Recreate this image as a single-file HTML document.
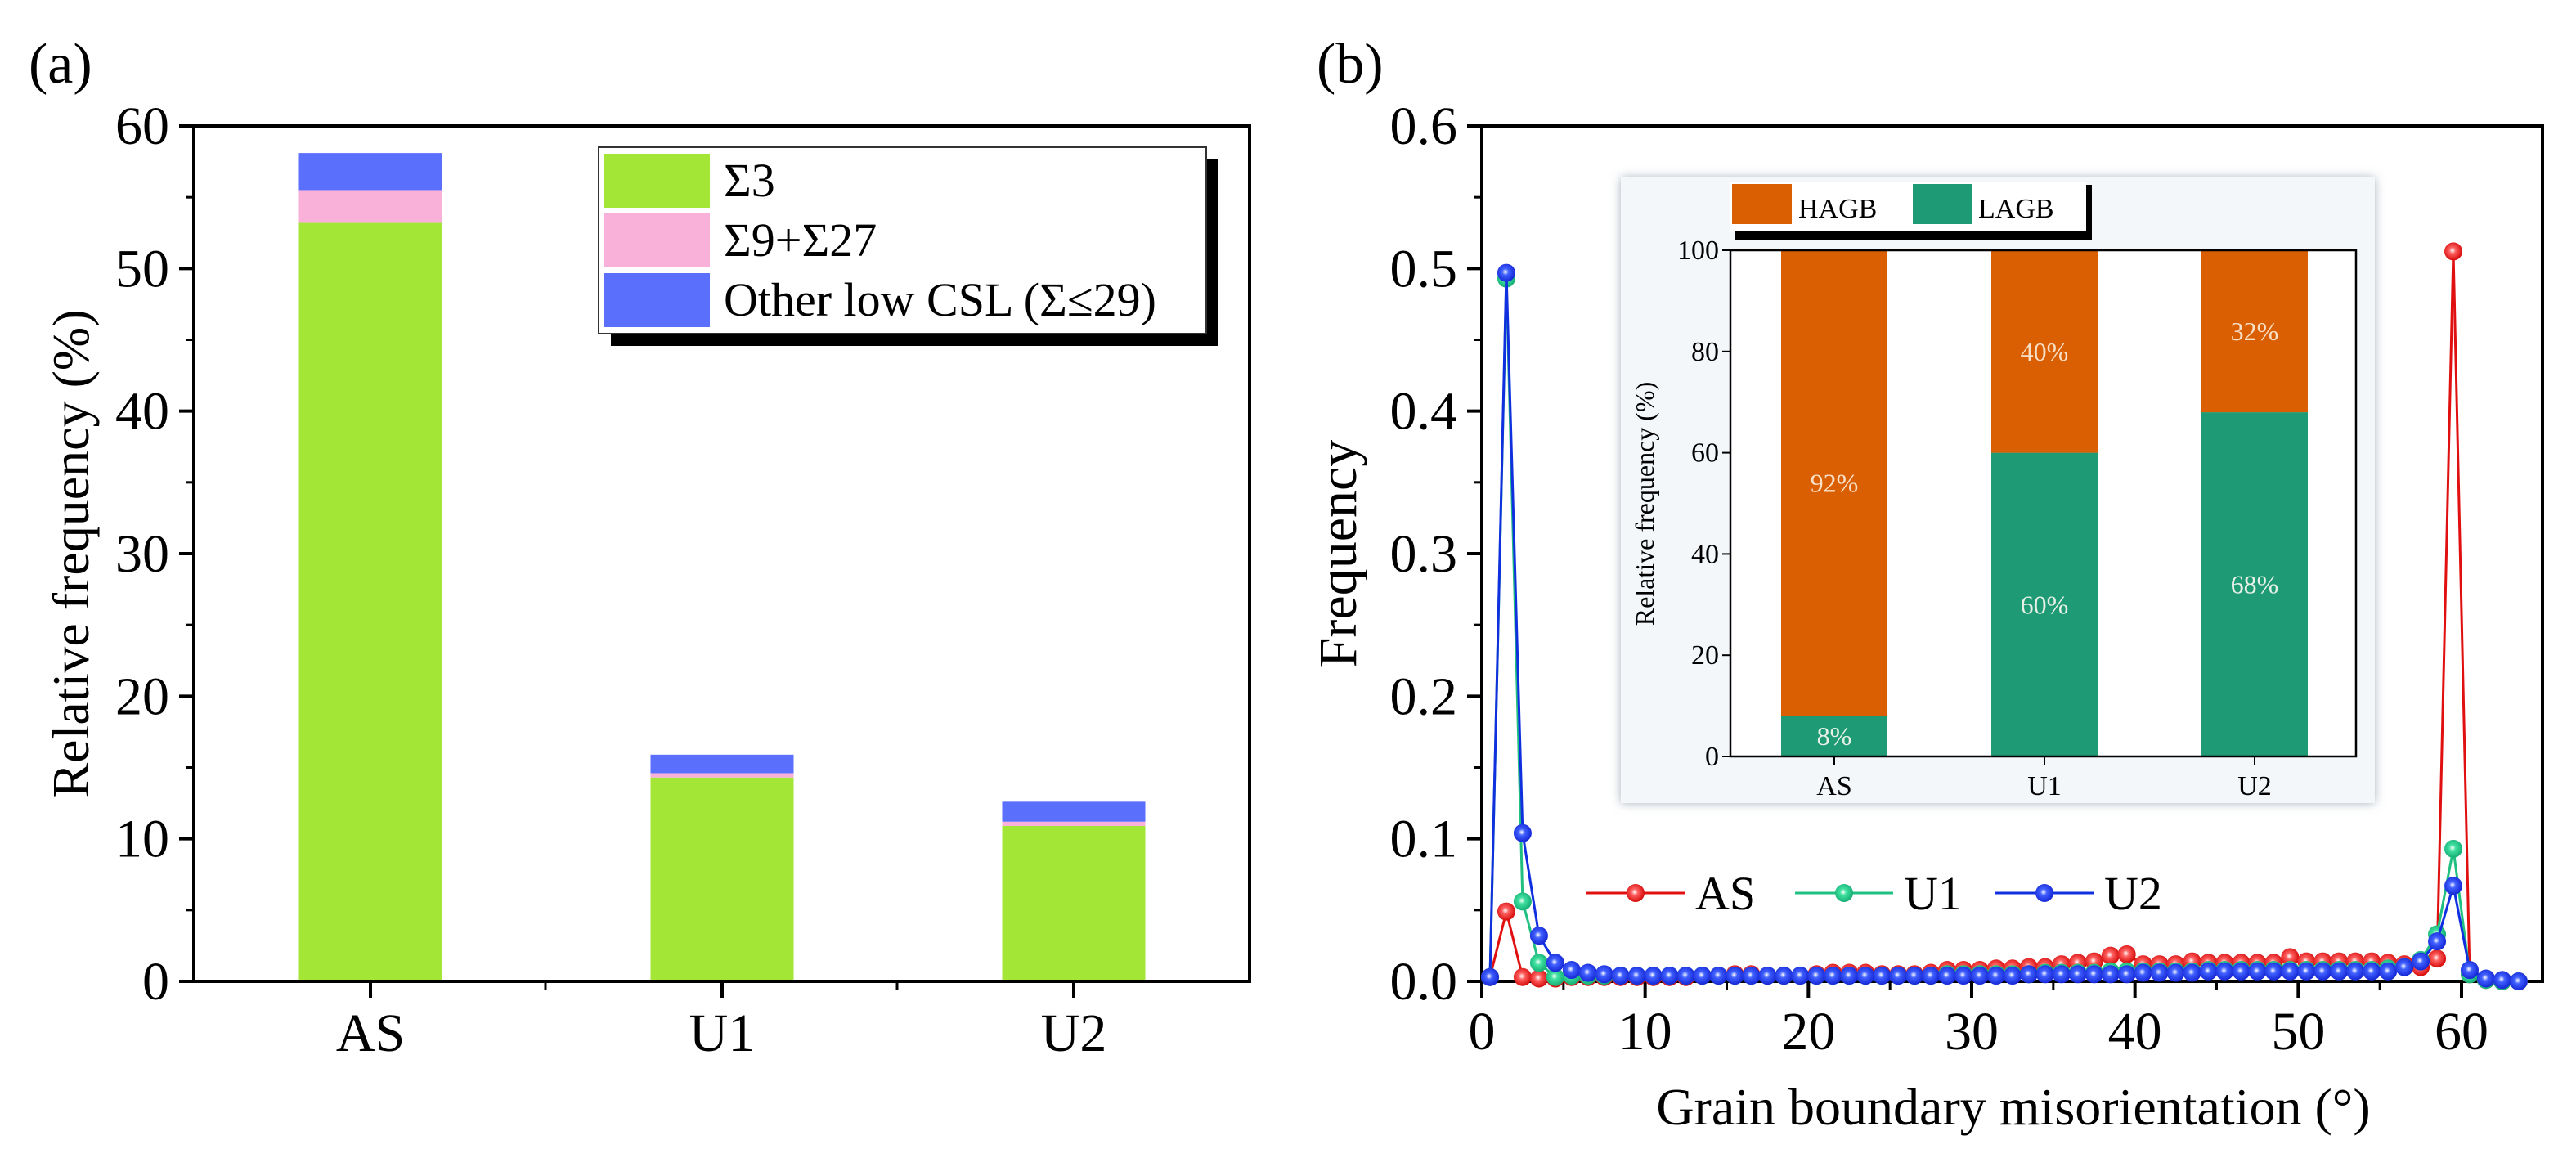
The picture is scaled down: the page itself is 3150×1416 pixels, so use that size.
<!DOCTYPE html>
<html><head><meta charset="utf-8">
<style>
html,body{margin:0;padding:0;background:#fff;}
svg{display:block;font-family:"Liberation Serif",serif;}
</style></head>
<body>
<svg id="fig" width="3150" height="1416" viewBox="0 0 3150 1416" xmlns="http://www.w3.org/2000/svg">
<defs>
<radialGradient id="gRed" cx="0.45" cy="0.45" r="0.6"><stop offset="0" stop-color="#fff"/><stop offset="0.3" stop-color="#ff6060"/><stop offset="1" stop-color="#d00000"/></radialGradient>
<radialGradient id="gGrn" cx="0.45" cy="0.45" r="0.6"><stop offset="0" stop-color="#fff"/><stop offset="0.3" stop-color="#40e0a0"/><stop offset="1" stop-color="#10a870"/></radialGradient>
<radialGradient id="gBlu" cx="0.45" cy="0.45" r="0.6"><stop offset="0" stop-color="#fff"/><stop offset="0.3" stop-color="#4060ff"/><stop offset="1" stop-color="#1020d0"/></radialGradient>
<filter id="sh" x="-5%" y="-5%" width="110%" height="110%"><feDropShadow dx="0" dy="0" stdDeviation="6" flood-color="#8090a0" flood-opacity="0.7"/></filter>
</defs>
<g id="pa"></g>
<g id="pb"></g>
</svg>
<script>
// ---- Panel (a) data ----
const catsA = ["AS","U1","U2"];
const sigma3 = [53.2, 14.3, 10.9];
const sigma927 = [2.3, 0.3, 0.3];
const otherCSL = [2.6, 1.3, 1.4];
const ticksA = [0,10,20,30,40,50,60];
// ---- Panel (b) data ----
const misX = [0.5,1.5,2.5,3.5,4.5,5.5,6.5,7.5,8.5,9.5,10.5,11.5,12.5,13.5,14.5,15.5,16.5,17.5,18.5,19.5,20.5,21.5,22.5,23.5,24.5,25.5,26.5,27.5,28.5,29.5,30.5,31.5,32.5,33.5,34.5,35.5,36.5,37.5,38.5,39.5,40.5,41.5,42.5,43.5,44.5,45.5,46.5,47.5,48.5,49.5,50.5,51.5,52.5,53.5,54.5,55.5,56.5,57.5,58.5,59.5,60.5,61.5,62.5,63.5];
const freqAS = [0.003,0.049,0.003,0.002,0.002,0.003,0.003,0.003,0.003,0.003,0.003,0.003,0.003,0.004,0.004,0.005,0.005,0.004,0.004,0.004,0.005,0.006,0.006,0.006,0.005,0.005,0.005,0.006,0.008,0.008,0.008,0.009,0.009,0.010,0.010,0.012,0.013,0.014,0.018,0.019,0.012,0.012,0.012,0.014,0.013,0.013,0.013,0.013,0.013,0.017,0.014,0.014,0.014,0.014,0.014,0.013,0.012,0.010,0.016,0.512,0.005,0.001,0.000,0.000];
const freqU1 = [0.003,0.493,0.056,0.013,0.003,0.004,0.004,0.004,0.004,0.004,0.004,0.004,0.004,0.004,0.004,0.004,0.004,0.004,0.004,0.004,0.004,0.004,0.004,0.004,0.004,0.004,0.004,0.004,0.005,0.005,0.005,0.005,0.005,0.005,0.006,0.006,0.006,0.006,0.007,0.007,0.007,0.007,0.007,0.007,0.008,0.008,0.008,0.008,0.008,0.008,0.008,0.008,0.008,0.008,0.008,0.009,0.010,0.015,0.033,0.093,0.005,0.001,0.000,0.000];
const freqU2 = [0.003,0.497,0.104,0.032,0.013,0.008,0.006,0.005,0.004,0.004,0.004,0.004,0.004,0.004,0.004,0.004,0.004,0.004,0.004,0.004,0.004,0.004,0.004,0.004,0.004,0.004,0.004,0.004,0.004,0.004,0.004,0.004,0.004,0.005,0.005,0.005,0.005,0.005,0.005,0.005,0.006,0.006,0.006,0.006,0.007,0.007,0.007,0.007,0.007,0.007,0.007,0.007,0.007,0.007,0.007,0.007,0.010,0.014,0.028,0.067,0.008,0.002,0.001,0.000];
const ticksBX = [0,10,20,30,40,50,60];
const ticksBY = [0,0.1,0.2,0.3,0.4,0.5,0.6];
// ---- Inset data ----
const catsI = ["AS","U1","U2"];
const lagb = [8,60,68];
const hagb = [92,40,32];
const ticksI = [0,20,40,60,80,100];

const NS="http://www.w3.org/2000/svg";
function el(parent,tag,attrs,text){const e=document.createElementNS(NS,tag);for(const k in attrs)e.setAttribute(k,attrs[k]);if(text!==undefined)e.textContent=text;parent.appendChild(e);return e;}

// ===== Panel (a) =====
const pa=document.getElementById('pa');
const A={x0:237,x1:1528,y0:1200,y1:154,max:60};
const ya=v=>A.y0-(v/A.max)*(A.y0-A.y1);
const xa=i=>453+i*430;
let t=el(pa,'text',{x:35,y:101,'font-size':70},'(a)');


for(let i=0;i<catsA.length;i++){
  const bw=175,x=xa(i)-bw/2;
  let r=el(pa,'rect',{x:x,y:ya(sigma3[i]),width:bw,height:ya(0)-ya(sigma3[i]),fill:'#a3e635'});
  
  
  const s2=sigma3[i]+sigma927[i];
  r=el(pa,'rect',{x:x,y:ya(s2),width:bw,height:ya(sigma3[i])-ya(s2),fill:'#f9b1d9'});
  
  
  const s3=s2+otherCSL[i];
  r=el(pa,'rect',{x:x,y:ya(s3),width:bw,height:ya(s2)-ya(s3),fill:'#5a6ffb'});
  
  
  t=el(pa,'text',{x:xa(i),y:1285,'font-size':66,'text-anchor':'middle'},catsA[i]);
  
  
  el(pa,'line',{x1:xa(i),x2:xa(i),y1:A.y0,y2:A.y0+20,stroke:'#000','stroke-width':4});
}
[667,1097].forEach(x=>el(pa,'line',{x1:x,x2:x,y1:A.y0,y2:A.y0+11,stroke:'#000','stroke-width':3}));
let fr=el(pa,'rect',{x:A.x0,y:A.y1,width:A.x1-A.x0,height:A.y0-A.y1,fill:'none',stroke:'#000','stroke-width':4});


ticksA.forEach(v=>{
  el(pa,'line',{x1:A.x0-18,x2:A.x0,y1:ya(v),y2:ya(v),stroke:'#000','stroke-width':4});
  let tt=el(pa,'text',{x:A.x0-30,y:ya(v)+22,'font-size':66,'text-anchor':'end'},String(v));
  
  
});
for(let v=5;v<60;v+=10) el(pa,'line',{x1:A.x0-10,x2:A.x0,y1:ya(v),y2:ya(v),stroke:'#000','stroke-width':3});
t=el(pa,'text',{x:0,y:0,'font-size':64,'text-anchor':'middle',transform:'translate(108,677) rotate(-90)'},'Relative frequency (%)');


// legend a
let lg=el(pa,'g',{});


el(lg,'rect',{x:747,y:195,width:743,height:228,fill:'#000'});
el(lg,'rect',{x:732,y:180,width:743,height:228,fill:'#fff',stroke:'#333','stroke-width':2});
const legA=[['#a3e635','Σ3'],['#f9b1d9','Σ9+Σ27'],['#5a6ffb','Other low CSL (Σ≤29)']];
legA.forEach((d,i)=>{
  const yy=188+i*73;
  el(lg,'rect',{x:738,y:yy,width:130,height:66,fill:d[0]});
  let lt=el(lg,'text',{x:885,y:yy+52,'font-size':58},d[1]);
  
  
});

// ===== Panel (b) =====
const pb=document.getElementById('pb');
const B={x0:1812,x1:3109,y0:1200,y1:154};
const xb=v=>B.x0+v*(3010-1812)/60;
const yb=v=>B.y0-(v/0.6)*(B.y0-B.y1);
t=el(pb,'text',{x:1610,y:101,'font-size':70},'(b)');


fr=el(pb,'rect',{x:B.x0,y:B.y1,width:B.x1-B.x0,height:B.y0-B.y1,fill:'none',stroke:'#000','stroke-width':4});


ticksBX.forEach(v=>{
  el(pb,'line',{x1:xb(v),x2:xb(v),y1:B.y0,y2:B.y0+20,stroke:'#000','stroke-width':4});
  let tt=el(pb,'text',{x:xb(v),y:1283,'font-size':66,'text-anchor':'middle'},String(v));
  
  
});
for(let v=5;v<65;v+=10) el(pb,'line',{x1:xb(v),x2:xb(v),y1:B.y0,y2:B.y0+11,stroke:'#000','stroke-width':3});
ticksBY.forEach(v=>{
  el(pb,'line',{x1:B.x0-18,x2:B.x0,y1:yb(v),y2:yb(v),stroke:'#000','stroke-width':4});
  let tt=el(pb,'text',{x:B.x0-30,y:yb(v)+22,'font-size':66,'text-anchor':'end'},v.toFixed(1));
  
  
});
for(let v=0.05;v<0.6;v+=0.1) el(pb,'line',{x1:B.x0-10,x2:B.x0,y1:yb(v),y2:yb(v),stroke:'#000','stroke-width':3});
t=el(pb,'text',{x:0,y:0,'font-size':66,'text-anchor':'middle',transform:'translate(1658,677) rotate(-90)'},'Frequency');


t=el(pb,'text',{x:2462,y:1375,'font-size':64,'text-anchor':'middle'},'Grain boundary misorientation (°)');



const series=[['AS',freqAS,'#e01010','url(#gRed)'],['U1',freqU1,'#20c080','url(#gGrn)'],['U2',freqU2,'#1030e0','url(#gBlu)']];
series.forEach(s=>{
  const g=el(pb,'g',{});
  
  
  const pts=misX.map((x,i)=>xb(x).toFixed(1)+','+yb(s[1][i]).toFixed(1)).join(' ');
  el(g,'polyline',{points:pts,fill:'none',stroke:s[2],'stroke-width':3});
  misX.forEach((x,i)=>{
    const c=el(g,'circle',{cx:xb(x),cy:yb(s[1][i]),r:11,fill:s[3]});
    
    
  });
});
// line legend
const lgb=el(pb,'g',{});


[[1940,'AS'],[2195,'U1'],[2440,'U2']].forEach((d,i)=>{
  const s=series[i];
  el(lgb,'line',{x1:d[0],x2:d[0]+120,y1:1092,y2:1092,stroke:s[2],'stroke-width':3});
  el(lgb,'circle',{cx:d[0]+60,cy:1092,r:11,fill:s[3]});
  let lt=el(lgb,'text',{x:d[0]+133,y:1112,'font-size':58},d[1]);
  
  
});

// ===== Inset =====
const ins=el(pb,'g',{});


el(ins,'rect',{x:1982,y:217,width:922,height:765,fill:'#f4f7fa',filter:'url(#sh)'});
const I={x0:2116,x1:2881,y0:925,y1:306};
const yi=v=>I.y0-(v/100)*(I.y0-I.y1);
const xi=i=>2243+i*257;
el(ins,'rect',{x:I.x0,y:I.y1,width:I.x1-I.x0,height:I.y0-I.y1,fill:'#fff'});
for(let i=0;i<catsI.length;i++){
  const bw=130,x=xi(i)-bw/2;
  let r=el(ins,'rect',{x:x,y:yi(lagb[i]),width:bw,height:yi(0)-yi(lagb[i]),fill:'#1e9b74'});
  
  
  const top=lagb[i]+hagb[i];
  r=el(ins,'rect',{x:x,y:yi(top),width:bw,height:yi(lagb[i])-yi(top),fill:'#d95f02'});
  
  
  let lt=el(ins,'text',{x:xi(i),y:(yi(0)+yi(lagb[i]))/2+11,'font-size':32,'text-anchor':'middle',fill:'#e8f0e8'},lagb[i]+'%');
  
  
  const hy=(yi(lagb[i])+yi(top))/2+11;
  lt=el(ins,'text',{x:xi(i),y:hy,'font-size':32,'text-anchor':'middle',fill:'#f8e0c8'},hagb[i]+'%');
  
  
  lt=el(ins,'text',{x:xi(i),y:972,'font-size':34,'text-anchor':'middle'},catsI[i]);
  
  
  el(ins,'line',{x1:xi(i),x2:xi(i),y1:I.y0,y2:I.y0+10,stroke:'#000','stroke-width':2});
}
el(ins,'rect',{x:I.x0,y:I.y1,width:I.x1-I.x0,height:I.y0-I.y1,fill:'none',stroke:'#000','stroke-width':2.5});
ticksI.forEach(v=>{
  el(ins,'line',{x1:I.x0-10,x2:I.x0,y1:yi(v),y2:yi(v),stroke:'#000','stroke-width':2});
  let lt=el(ins,'text',{x:I.x0-14,y:yi(v)+11,'font-size':34,'text-anchor':'end'},String(v));
  
  
});
t=el(ins,'text',{x:0,y:0,'font-size':32,'text-anchor':'middle',transform:'translate(2022,616) rotate(-90)'},'Relative frequency (%)');


const lgi=el(ins,'g',{});


el(lgi,'rect',{x:2122,y:281,width:436,height:12,fill:'#000'});
el(lgi,'rect',{x:2551,y:226,width:7,height:67,fill:'#000'});
el(lgi,'rect',{x:2116,y:222,width:435,height:60,fill:'#fff'});
el(lgi,'rect',{x:2118,y:225,width:73,height:49,fill:'#d95f02'});
el(lgi,'rect',{x:2339,y:225,width:72,height:49,fill:'#1e9b74'});
t=el(lgi,'text',{x:2199,y:266,'font-size':34},'HAGB');


t=el(lgi,'text',{x:2419,y:266,'font-size':34},'LAGB');


</script>
</body></html>
